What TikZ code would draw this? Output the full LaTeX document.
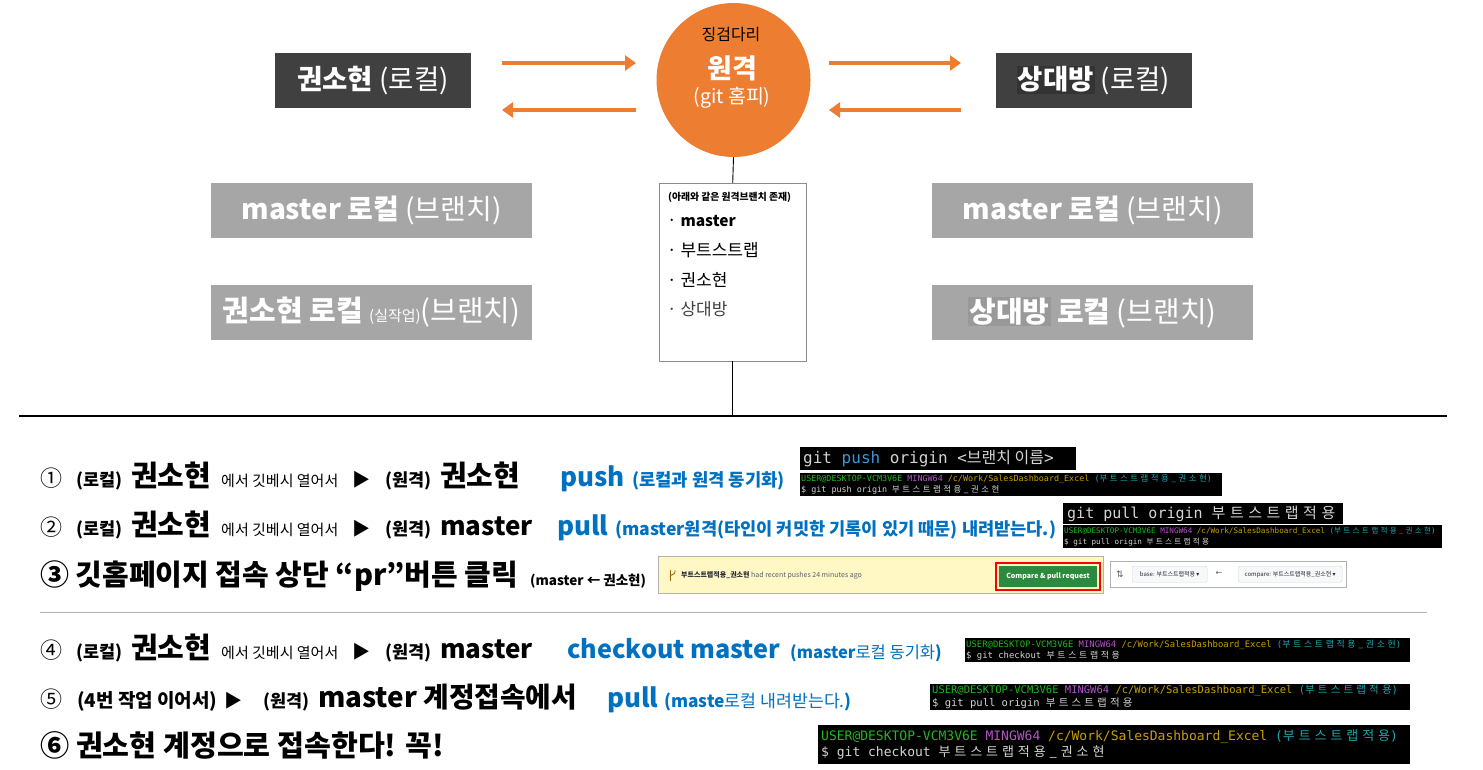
\documentclass[tikz,border=0pt]{standalone}
\usepackage{fontspec}
\usetikzlibrary{arrows.meta}
\setmainfont{Noto Sans CJK KR}
\newfontfamily\tmono{DejaVu Sans Mono}
\newfontfamily\dvs{DejaVu Sans}
\newfontfamily\tkr[LetterSpace=30]{Noto Sans CJK KR}
\newcommand{\fsz}[1]{\fontsize{#1}{#1}\selectfont}
\newcommand{\tk}[1]{{\tkr #1}}
\definecolor{orng}{HTML}{ED7D31}
\definecolor{dark}{HTML}{404040}
\definecolor{hlA}{HTML}{333333}
\definecolor{lgry}{HTML}{A6A6A6}
\definecolor{hlB}{HTML}{999999}
\definecolor{blu}{HTML}{0070C0}
\definecolor{tgrn}{HTML}{1FB81F}
\definecolor{tmag}{HTML}{B455C8}
\definecolor{tyel}{HTML}{C8A000}
\definecolor{tcyn}{HTML}{1BA8B0}
\definecolor{twht}{HTML}{D4D4D4}
\definecolor{tblu}{HTML}{3A96DD}
\definecolor{ghy}{HTML}{FFF8C5}
\definecolor{ghg}{HTML}{2C8A3E}
\definecolor{ghb}{HTML}{D0D7DE}
\definecolor{ghbg}{HTML}{F6F8FA}
\definecolor{ghtx}{HTML}{24292F}
\definecolor{ghgr}{HTML}{57606A}
\definecolor{brn}{HTML}{9A6700}
\begin{document}
\begin{tikzpicture}[x=1pt,y=-1pt,
  darkbox/.style={fill=dark, minimum width=196, minimum height=55, inner sep=0, text=white},
  graybox/.style={fill=lgry, minimum width=321, minimum height=55, inner sep=0, text=white},
  arr/.style={orng, line width=4.5pt, -{Triangle[length=11pt,width=15pt]}},
  lbl/.style={anchor=base west, inner sep=0},
  term/.style={fill=black, anchor=north west, inner sep=0, outer sep=0},
  ttxt/.style={anchor=west, inner sep=0, align=left, text=twht},
  litem/.style={anchor=base west, inner sep=0, font=\fsz{17}},
]
\useasboundingbox (0,0) rectangle (1483,769);

% ---------- top row ----------
\node[darkbox] (kw) at (373,80.5) {\fsz{27.5}\textbf{권소현} (로컬)};
\node[darkbox] (sd) at (1093.5,80.5) {\fsz{27.5}{\setlength{\fboxsep}{1pt}\colorbox{hlA}{\textbf{상대방}}} (로컬)};

\node[circle, fill=orng, minimum size=154, inner sep=0] (remote) at (733.5,80) {};
\node[inner sep=0] (r1) at (731,35) {\fsz{16}징검다리};
\node[inner sep=0, text=white] (r2) at (732,68) {\fsz{27}\textbf{원격}};
\node[inner sep=0, text=white] (r3) at (732,98) {\fsz{19.5}(git 홈피)};

\coordinate (la1) at (502,63);  \coordinate (la2) at (636,63);
\coordinate (lb1) at (636,110); \coordinate (lb2) at (502,110);
\coordinate (ra1) at (829,63);  \coordinate (ra2) at (961,63);
\coordinate (rb1) at (961,110); \coordinate (rb2) at (829,110);
\draw[arr] (la1) -- (la2);
\draw[arr] (lb1) -- (lb2);
\draw[arr] (ra1) -- (ra2);
\draw[arr] (rb1) -- (rb2);

% ---------- branch boxes ----------
\node[graybox] (lm) at (371.5,210.5) {\fsz{28}\textbf{master 로컬} (브랜치)};
\node[graybox] (lk) at (371.5,312.5) {\fsz{29}\textbf{권소현 로컬} {\fsz{15}(실작업)}(브랜치)};
\node[graybox] (rm) at (1092.5,210.5) {\fsz{28}\textbf{master 로컬} (브랜치)};
\node[graybox] (rs) at (1092.5,312.5) {\fsz{29}{\setlength{\fboxsep}{1pt}\colorbox{hlB}{\textbf{상대방}}} \textbf{로컬} (브랜치)};

% ---------- remote branch list ----------
\node[draw=black!45, fill=white, minimum width=147, minimum height=178, anchor=north west, inner sep=0] (list) at (659,183) {};
\node[anchor=base west, inner sep=0] (lt) at (668,200.5) {\fsz{9.8}\textbf{(아래와 같은 원격브랜치 존재)}};
\node[litem] (li1) at (667,226) {· {\fsz{15.5}\textbf{master}}};
\node[litem] (li2) at (667,256) {· 부트스트랩};
\node[litem] (li3) at (667,286) {· 권소현};
\node[litem, text=black!75] (li4) at (667,315) {· 상대방};

\coordinate (hL) at (19,416);
\coordinate (hR) at (1447,416);
\draw[line width=0.9pt] (remote.south) -- (list.north);
\draw[line width=0.9pt] (list.south) -- (list.south |- hL);
\draw[line width=2pt] (hL) -- (hR);

\coordinate (gL) at (40,612);
\coordinate (gR) at (1427,612);
\draw[black!30, line width=1pt] (gL) -- (gR);

% ---------- line 1 ----------
\node[lbl] (a1) at (40,486) {\fsz{22}①};
\node[lbl] (a2) at (76,486) {\fsz{17.5}\textbf{(로컬)}};
\node[lbl] (a3) at (131,486) {\fsz{29}\textbf{권소현}};
\node[lbl] (a4) at (221,486) {\fsz{15}에서 깃베시 열어서};
\node[lbl] (a5) at (352,486) {\fsz{18}▶};
\node[lbl] (a6) at (385,486) {\fsz{17.5}\textbf{(원격)}};
\node[lbl] (a7) at (440,486) {\fsz{29}\textbf{권소현}};
\node[lbl, text=blu] (a8) at (560,486) {\fsz{26}\textbf{push}};
\node[lbl, text=blu] (a9) at (632,486) {\fsz{17.7}\textbf{(로컬과 원격 동기화)}};

% ---------- line 2 ----------
\node[lbl] (b1) at (40,535) {\fsz{22}②};
\node[lbl] (b2) at (76,535) {\fsz{17.5}\textbf{(로컬)}};
\node[lbl] (b3) at (131,535) {\fsz{29}\textbf{권소현}};
\node[lbl] (b4) at (221,535) {\fsz{15}에서 깃베시 열어서};
\node[lbl] (b5) at (352,535) {\fsz{18}▶};
\node[lbl] (b6) at (385,535) {\fsz{17.5}\textbf{(원격)}};
\node[lbl] (b7) at (440,535) {\fsz{26}\textbf{master}};
\node[lbl, text=blu] (b8) at (557,535) {\fsz{26}\textbf{pull}};
\node[lbl, text=blu] (b9) at (615,535) {\fsz{17.6}\textbf{(master원격(타인이 커밋한 기록이 있기 때문) 내려받는다.)}};

% ---------- line 3 ----------
\node[lbl] (c1) at (40,585) {\fsz{29}\textbf{③ 깃홈페이지 접속 상단 “pr”버튼 클릭}};
\node[lbl] (c2) at (530,585) {\fsz{13.5}\textbf{(master ← 권소현)}};

% ---------- line 4 ----------
\node[lbl] (d1) at (40,658) {\fsz{22}④};
\node[lbl] (d2) at (76,658) {\fsz{17.5}\textbf{(로컬)}};
\node[lbl] (d3) at (131,658) {\fsz{29}\textbf{권소현}};
\node[lbl] (d4) at (221,658) {\fsz{15}에서 깃베시 열어서};
\node[lbl] (d5) at (352,658) {\fsz{18}▶};
\node[lbl] (d6) at (385,658) {\fsz{17.5}\textbf{(원격)}};
\node[lbl] (d7) at (440,658) {\fsz{26}\textbf{master}};
\node[lbl, text=blu] (d8) at (567,658) {\fsz{25.2}\textbf{checkout master}};
\node[lbl, text=blu] (d9) at (790,658) {\fsz{16.5}\textbf{(master}로컬 동기화\textbf{)}};

% ---------- line 5 ----------
\node[lbl] (e1) at (40,707) {\fsz{22}⑤};
\node[lbl] (e2) at (77,707) {\fsz{19}\textbf{(4번 작업 이어서)}};
\node[lbl] (e3) at (224,707) {\fsz{18}▶};
\node[lbl] (e4) at (263,707) {\fsz{17.5}\textbf{(원격)}};
\node[lbl] (e5) at (318,707) {\fsz{27.8}\textbf{master 계정접속에서}};
\node[lbl, text=blu] (e6) at (607,707) {\fsz{26}\textbf{pull}};
\node[lbl, text=blu] (e7) at (664,707) {\fsz{17.3}\textbf{(maste}로컬 내려받는다.\textbf{)}};

% ---------- line 6 ----------
\node[lbl] (f1) at (40,756) {\fsz{29.2}\textbf{⑥ 권소현 계정으로 접속한다! 꼭!}};

% ---------- terminals ----------
\node[term, minimum width=276, minimum height=23] (t1) at (800,447) {};
\node[ttxt, font=\tmono\fsz{16}] (t1x) at ([xshift=3]t1.west) {git \textcolor{tblu}{push} origin <{\rmfamily 브랜치 이름}>};

\node[term, minimum width=422, minimum height=23] (t2) at (800,473) {};
\node[ttxt, font=\tmono\fontsize{8.4}{10.5}\selectfont] (t2x) at ([xshift=1]t2.west) {\textcolor{tgrn}{USER@DESKTOP-VCM3V6E} \textcolor{tmag}{MINGW64} \textcolor{tyel}{/c/Work/SalesDashboard\_Excel} \textcolor{tcyn}{(\tk{부트스트랩적용\_권소현})}\\ \$ git push origin \tk{부트스트랩적용\_권소현}};

\node[term, minimum width=280, minimum height=21] (t3) at (1063,503) {};
\node[ttxt, font=\tmono\fsz{15}] (t3x) at ([xshift=4]t3.west) {git pull origin \tk{부트스트랩적용}};

\node[term, minimum width=379, minimum height=23] (t4) at (1063,525) {};
\node[ttxt, font=\tmono\fontsize{7.6}{10.5}\selectfont] (t4x) at ([xshift=1]t4.west) {\textcolor{tgrn}{USER@DESKTOP-VCM3V6E} \textcolor{tmag}{MINGW64} \textcolor{tyel}{/c/Work/SalesDashboard\_Excel} \textcolor{tcyn}{(\tk{부트스트랩적용\_권소현})}\\ \$ git pull origin \tk{부트스트랩적용}};

\node[term, minimum width=445, minimum height=24] (t5) at (965,638) {};
\node[ttxt, font=\tmono\fontsize{8.9}{11}\selectfont] (t5x) at ([xshift=1]t5.west) {\textcolor{tgrn}{USER@DESKTOP-VCM3V6E} \textcolor{tmag}{MINGW64} \textcolor{tyel}{/c/Work/SalesDashboard\_Excel} \textcolor{tcyn}{(\tk{부트스트랩적용\_권소현})}\\ \$ git checkout \tk{부트스트랩적용}};

\node[term, minimum width=480, minimum height=26] (t6) at (930,684) {};
\node[ttxt, font=\tmono\fontsize{10.5}{12.5}\selectfont] (t6x) at ([xshift=2]t6.west) {\textcolor{tgrn}{USER@DESKTOP-VCM3V6E} \textcolor{tmag}{MINGW64} \textcolor{tyel}{/c/Work/SalesDashboard\_Excel} \textcolor{tcyn}{(\tk{부트스트랩적용})}\\ \$ git pull origin \tk{부트스트랩적용}};

\node[term, minimum width=592, minimum height=39] (t7) at (818,725) {};
\node[ttxt, font=\tmono\fontsize{13}{16}\selectfont] (t7x) at ([xshift=3]t7.west) {\textcolor{tgrn}{USER@DESKTOP-VCM3V6E} \textcolor{tmag}{MINGW64} \textcolor{tyel}{/c/Work/SalesDashboard\_Excel} \textcolor{tcyn}{(\tk{부트스트랩적용})}\\ \$ git checkout \tk{부트스트랩적용\_권소현}};

% ---------- github screenshots ----------
\node[fill=ghy, draw=black!30, minimum width=445, minimum height=37, anchor=north west, inner sep=0] (g1) at (658,556) {};
\draw[brn, line width=0.9pt] (670,570) -- (670,581);
\draw[brn, line width=0.9pt] (675,570) -- (675,572) .. controls (675,575) and (670,574) .. (670,577);
\node[anchor=west, inner sep=0, text=ghtx] (g1t) at (681,575) {\fsz{7}\textbf{부트스트랩적용\_권소현} \textcolor{ghgr}{had recent pushes 24 minutes ago}};
\node[draw=red, line width=2pt, minimum width=104, minimum height=27, anchor=north west, inner sep=0] (g1r) at (995,562) {};
\node[fill=ghg, text=white, minimum width=98, minimum height=21, inner sep=0] (g1b) at (g1r.center) {\fsz{7}\textbf{Compare \& pull request}};

\node[fill=white, draw=black!30, minimum width=236, minimum height=26, anchor=north west, inner sep=0] (g2) at (1110,561) {};
\node[inner sep=0, text=ghgr] (g2i) at (1120,574) {\dvs\fsz{9}⇅};
\node[fill=ghbg, draw=ghb, rounded corners=2pt, minimum width=75, minimum height=16, anchor=north west, inner sep=0, text=ghtx] (g2a) at (1132,566) {\fsz{6}base: 부트스트랩적용 {\dvs▾}};
\node[inner sep=0, text=ghgr] (g2b) at (1219,573) {\dvs\fsz{8}←};
\node[fill=ghbg, draw=ghb, rounded corners=2pt, minimum width=104, minimum height=16, anchor=north west, inner sep=0, text=ghtx] (g2c) at (1238,566) {\fsz{6}compare: 부트스트랩적용\_권소현 {\dvs▾}};

\end{tikzpicture}
\end{document}
